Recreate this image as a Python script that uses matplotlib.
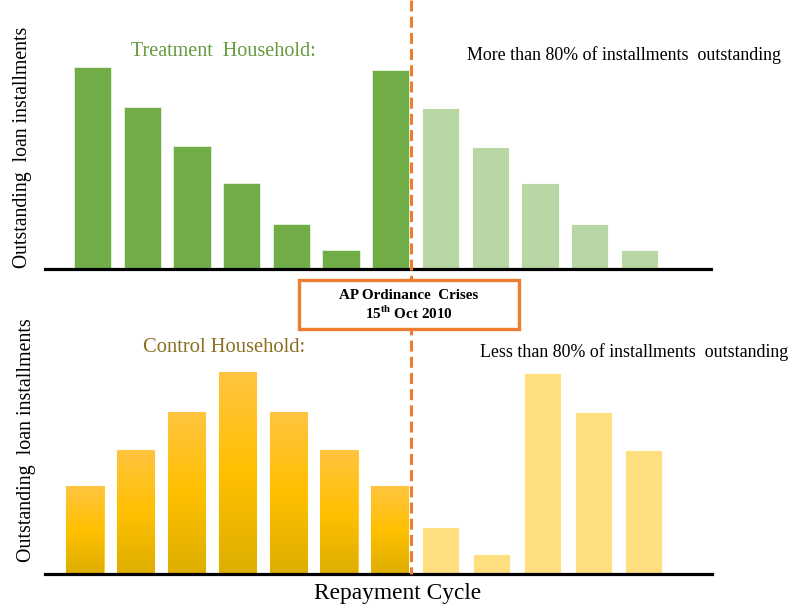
"""Outstanding loan installments around the AP ordinance, treatment vs control."""

import matplotlib.pyplot as plt
import numpy as np
from matplotlib.colors import LinearSegmentedColormap
from matplotlib.lines import Line2D
from matplotlib.patches import Rectangle

plt.rcParams["font.family"] = ["Liberation Serif", "DejaVu Serif"]
plt.rcParams["mathtext.fontset"] = "custom"
plt.rcParams["mathtext.bf"] = "Liberation Serif:bold"
plt.rcParams["mathtext.rm"] = "Liberation Serif"

# repayment cycles 1-7 fall before the ordinance, 8-12 after it
cycles = list(range(1, 13))
treatment_before = [101, 81, 61.5, 43, 22.5, 9.5, 99.5]
treatment_after = [80.5, 61, 43, 22.5, 9.5]
control_before = [44, 62, 81, 101, 81, 62, 44]
control_after = [23.5, 10, 100.5, 81, 62]

GREEN = "#70AD47"
GREEN_LIGHT = "#B9D7A4"
YELLOW_LIGHT = "#FFDF80"
ORANGE = "#ED7D31"

W, H = 794, 613
fig = plt.figure(figsize=(W / 100, H / 100), dpi=100)


def px_axes(left, right, bottom, top):
    return fig.add_axes([left / W, 1 - bottom / H, (right - left) / W, (bottom - top) / H])


def style(ax, xlim):
    ax.set_xlim(*xlim)
    ax.set_ylim(0, 115)
    for side in ("top", "right", "left"):
        ax.spines[side].set_visible(False)
    ax.spines["bottom"].set_linewidth(2.3)
    ax.spines["bottom"].set_color("black")
    ax.set_xticks([])
    ax.set_yticks([])
    ax.patch.set_alpha(0)


n_before = len(treatment_before)
x_before = np.array(cycles[:n_before]) - 1
x_after = np.array(cycles[n_before:]) - 1

# top panel: treatment households
ax_t = px_axes(45, 711, 269, 39)
style(ax_t, (-0.956, 12.44))
ax_t.bar(x_before, treatment_before, width=0.75, color=GREEN, edgecolor="#E8F1E0", linewidth=0.6)
ax_t.bar(x_after, treatment_after, width=0.75, color=GREEN_LIGHT, edgecolor="white", linewidth=0.6)

# bottom panel: control households, gradient-filled before the ordinance
ax_c = px_axes(45, 712, 574, 344)
style(ax_c, (-0.787, 12.34))
gold = LinearSegmentedColormap.from_list("gold", ["#DDAE00", "#FFC000", "#FFC440"])
grad = np.linspace(0, 1, 256).reshape(-1, 1)
bars = ax_c.bar(x_before, control_before, width=0.73, color="#FFC000", edgecolor="#FFCB30", linewidth=0.8)
for bar in bars:
    x0, w, h = bar.get_x(), bar.get_width(), bar.get_height()
    img = ax_c.imshow(grad, cmap=gold, origin="lower", aspect="auto",
                      extent=(x0, x0 + w, 0, h), zorder=bar.get_zorder() + 0.1)
    img.set_clip_path(bar)
ax_c.set_xlim(-0.787, 12.34)
ax_c.set_ylim(0, 115)
ax_c.bar(x_after, control_after, width=0.73, color=YELLOW_LIGHT, edgecolor="white", linewidth=0.6)

# ordinance date marker
fig.add_artist(Line2D([411 / W, 411 / W], [1, 1 - 574 / H], color=ORANGE, lw=2.2,
                      dashes=(3.6, 1.7), zorder=5))
fig.add_artist(Rectangle((299 / W, 1 - 329 / H), 220 / W, 49 / H, facecolor="white",
                         edgecolor=ORANGE, linewidth=2.4, zorder=6))
fig.text(409 / W, 1 - 295 / H, "AP Ordinance  Crises", ha="center", va="center",
         fontsize=10.9, fontweight="bold", zorder=7)
fig.text(409 / W, 1 - 313 / H, r"15$^{\mathbf{th}}$ Oct 2010", ha="center", va="center",
         fontsize=10.9, fontweight="bold", zorder=7)

# panel titles and notes
fig.text(223 / W, 1 - 52 / H, "Treatment  Household:", ha="center", va="center",
         fontsize=14.5, color="#649A3E")
fig.text(467 / W, 1 - 55 / H, "More than 80% of installments  outstanding", ha="left",
         va="center", fontsize=12.9)
fig.text(224 / W, 1 - 348 / H, "Control Household:", ha="center", va="center",
         fontsize=14.8, color="#8A6E1E")
fig.text(480 / W, 1 - 352 / H, "Less than 80% of installments  outstanding", ha="left",
         va="center", fontsize=12.9)

fig.text(23 / W, 1 - 147 / H, "Outstanding  loan installments", rotation=90,
         ha="center", va="center", fontsize=14.2)
fig.text(27 / W, 1 - 440 / H, "Outstanding  loan installments", rotation=90,
         ha="center", va="center", fontsize=14.4)
fig.text(398 / W, 1 - 593 / H, "Repayment Cycle", ha="center", va="center", fontsize=16.8)

fig.savefig("out.png", dpi=100)
